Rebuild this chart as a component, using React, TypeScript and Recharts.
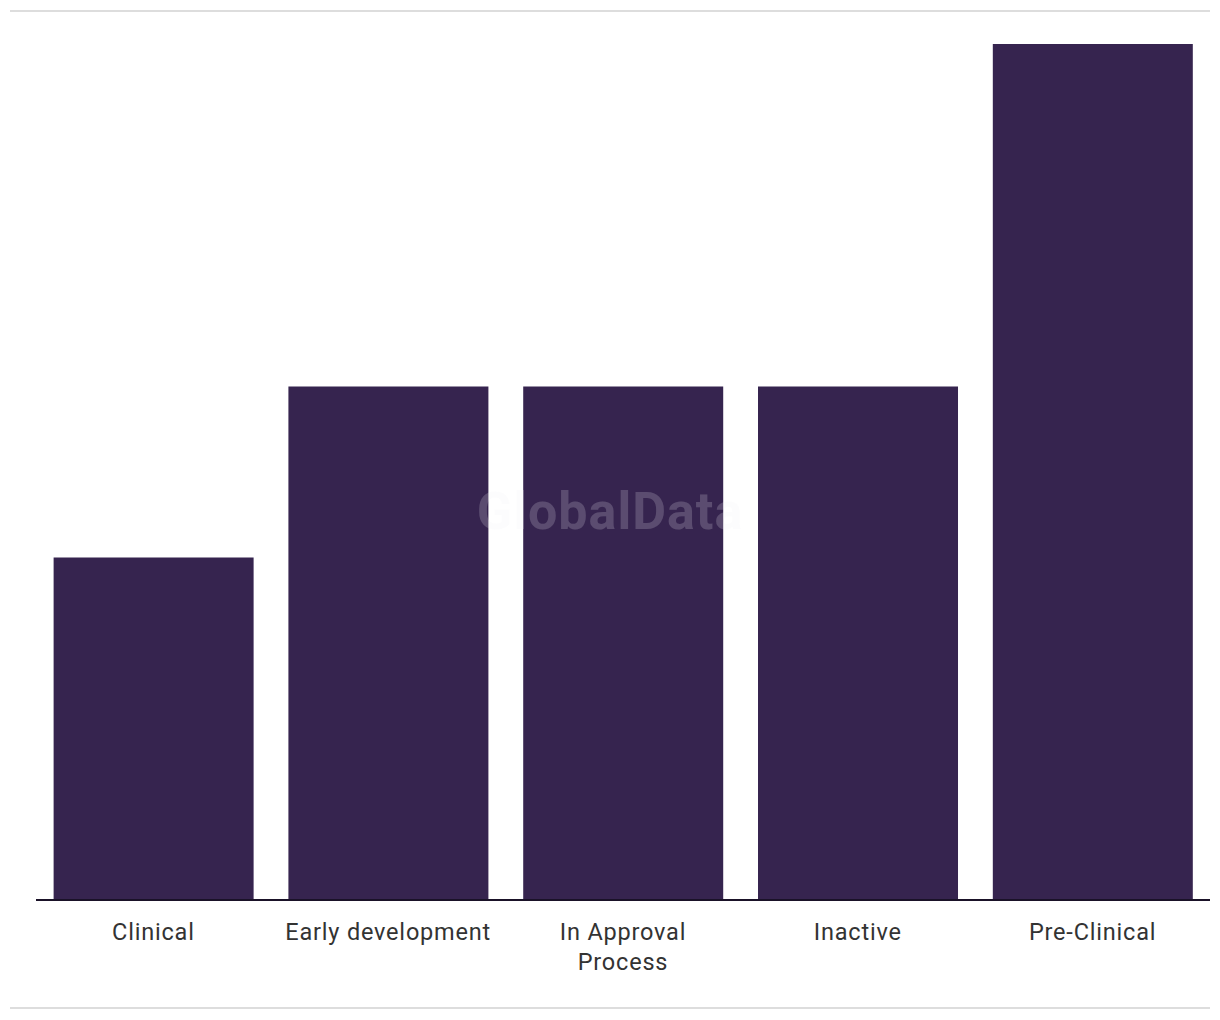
import React from 'react';
import { BarChart, Bar, XAxis, YAxis } from 'recharts';

const categories = ['Clinical', 'Early development', 'In Approval Process', 'Inactive', 'Pre-Clinical'];
const counts = [2, 3, 3, 3, 5];

const data = categories.map((name, i) => ({ name, value: counts[i] }));

const wrapLabel = (text: string, maxChars: number) => {
  const words = text.split(' ');
  const lines: string[] = [];
  let current = '';
  words.forEach((w) => {
    const next = current ? `${current} ${w}` : w;
    if (next.length > maxChars && current) {
      lines.push(current);
      current = w;
    } else {
      current = next;
    }
  });
  if (current) lines.push(current);
  return lines;
};

const CategoryTick = (props: any) => {
  const { x, y, payload } = props;
  const lines = wrapLabel(payload.value, 17);
  return (
    <text
      x={x}
      y={y}
      textAnchor="middle"
      fill="#333333"
      fontSize={23.5}
      letterSpacing={0.8}
      fontFamily="Roboto, sans-serif"
    >
      {lines.map((line, i) => (
        <tspan key={i} x={x} dy={i === 0 ? 40 : 30}>
          {line}
        </tspan>
      ))}
    </text>
  );
};

const App: React.FC = () => {
  return (
    <div style={{ position: 'absolute', left: 0, top: 0, width: 1220, height: 1020, background: '#fff' }}>
      <div style={{ position: 'absolute', left: 10, top: 10, width: 1200, height: 2, background: '#dddddd' }} />
      <div style={{ position: 'absolute', left: 10, top: 1007, width: 1200, height: 2, background: '#dddddd' }} />
      <BarChart
        width={1220}
        height={1020}
        data={data}
        margin={{ top: 44, right: 10, left: 36, bottom: 0 }}
        barCategoryGap="7.5%"
      >
        <XAxis
          dataKey="name"
          height={120}
          interval={0}
          tickLine={false}
          tickSize={0}
          tickMargin={0}
          axisLine={{ stroke: '#1a1228', strokeWidth: 2 }}
          tick={<CategoryTick />}
        />
        <YAxis hide domain={[0, 5]} />
        <Bar dataKey="value" fill="#36244f" isAnimationActive={false} />
      </BarChart>
      <div
        style={{
          position: 'absolute',
          left: 0,
          width: 1220,
          top: 481,
          textAlign: 'center',
          fontFamily: 'Roboto, sans-serif',
          fontWeight: 700,
          fontSize: 52,
          letterSpacing: 1,
          color: 'rgba(240, 240, 245, 0.2)',
          pointerEvents: 'none',
        }}
      >
        GlobalData
      </div>
    </div>
  );
};

export default App;
